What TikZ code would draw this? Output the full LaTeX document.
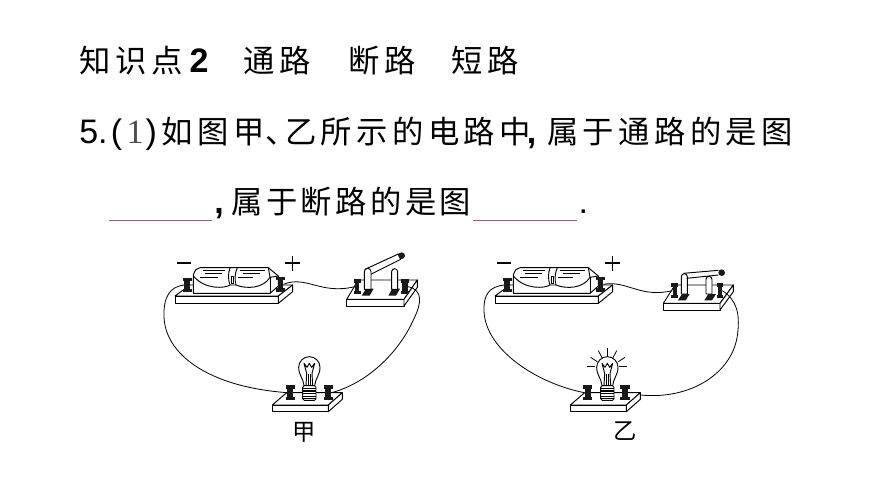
\documentclass[tikz,border=0pt]{standalone}
\usepackage{fontspec}
\setmainfont{Liberation Sans}
\newfontfamily\cjk[LetterSpace=14]{Noto Sans CJK SC}
\newfontfamily\cjknar[LetterSpace=11]{Noto Sans CJK SC}
\newfontfamily\cjkplain{Noto Sans CJK SC}
\newfontfamily\serifdigit{Liberation Serif}
\definecolor{blankpink}{HTML}{C2487A}
\tikzset{
  txt/.style={anchor=base west,inner sep=0pt,font=\fontsize{23.5}{26}\cjk},
  txtn/.style={anchor=base west,inner sep=0pt,font=\fontsize{23.5}{26}\cjknar},
  lat/.style={anchor=base west,inner sep=0pt,font=\fontsize{25.5}{28}\selectfont},
  latb/.style={anchor=base west,inner sep=0pt,font=\fontsize{25.5}{28}\selectfont\bfseries},
  figcap/.style={anchor=center,inner sep=0pt,font=\fontsize{17.5}{20}\cjkplain},
  ink/.style={draw=black,line width=.7pt,line join=round},
  wire/.style={draw=black,line width=.6pt},
  board/.style={ink,fill=white},
  blankline/.style={draw=blankpink,line width=.7pt},
  termstem/.style={draw=none,fill=black!90,inner sep=0pt,minimum width=3pt,minimum height=9pt},
  signline/.style={draw=black,line width=1pt},
  rayline/.style={draw=black,line width=.6pt}
}
\newcommand{\termI}[4]{%
  \begin{scope}[shift={(#2,#3)}]
    \node[termstem,minimum width=#4*0.32pt] (#1) at (0,0) {};
    \fill[black!90] (-#4,-22) rectangle (#4,-12);
    \fill[black!90] (-#4,12) rectangle (#4,22);
  \end{scope}}
\newcommand{\batteryunit}[1]{%
  \draw[board] (75,168) -- (120,135) -- (428,135) -- (385,168) -- cycle;
  \draw[board] (75,168) rectangle (385,190);
  \draw[board] (385,168) -- (428,135) -- (428,155) -- (385,190) -- cycle;
  \draw[ink,fill=white] (130,160) -- (130,105) .. controls (135,90) and (140,84) .. (150,83)
     -- (355,83) -- (385,108) -- (385,138) -- (360,160) -- cycle;
  \draw[ink] (130,108) .. controls (165,150) and (225,145) .. (240,135);
  \draw[ink] (258,135) .. controls (290,148) and (340,145) .. (360,112) -- (385,108);
  \draw[ink] (360,112) -- (360,160);
  \draw[ink] (355,83) -- (360,112);
  \draw[ink] (240,83) .. controls (234,100) and (234,120) .. (240,135) -- (258,135)
     .. controls (254,120) and (254,100) .. (262,83);
  \draw[ink] (245,108) rectangle (251,130);
  \foreach \xa/\xb/\yy in {160/225/92,165/215/100,150/205/112,270/345/90,280/330/100,265/310/112}
    \draw[ink] (\xa,\yy) -- (\xb,\yy);
  \termI{#1neg}{112}{135}{14}
  \termI{#1pos}{391}{133}{13}
  \draw[signline,line width=1.5pt] (82,68) -- (122,68);
  \draw[signline] (406,69) -- (450,69) (428,48) -- (428,92);
}
\newcommand{\bulbunit}[4]{% prefix, dx, left term x, right term x
  \draw[board] (#2-111,495) -- (#2-68,458) -- (#2+99,458) -- (#2+57,495) -- cycle;
  \draw[board] (#2-111,495) rectangle (#2+57,515);
  \draw[board] (#2+57,495) -- (#2+99,458) -- (#2+99,478) -- (#2+57,515) -- cycle;
  \draw[ink] (#2-16,437) .. controls (#2-18,415) and (#2-32,405) .. (#2-32,382)
     arc[start angle=180,end angle=360,radius=32]
     .. controls (#2+32,405) and (#2+18,415) .. (#2+16,437);
  \draw[ink] (#2-10,437) -- (#2-8,400) -- (#2-16,370) -- (#2-7,382) -- (#2,370) -- (#2+7,382) -- (#2+16,370) -- (#2+8,400) -- (#2+10,437);
  \draw[ink] (#2-3,437) -- (#2-3,402) (#2+3,437) -- (#2+3,402);
  \draw[ink,fill=white,rounded corners=1.2pt] (#2-20,437) rectangle (#2+20,481);
  \foreach \yy in {445,453,461,469,476}
    \draw[ink,line width=.9pt] (#2-20,\yy) -- (#2+20,\yy);
  \draw[ink] (#3,458) -- (#2-20,458) (#2+20,458) -- (#4,458);
  \termI{#1bl}{#3}{458}{14}
  \termI{#1br}{#4}{458}{14}
}
\begin{document}
\begin{tikzpicture}[x=.25pt,y=-.25pt]
\useasboundingbox (0,0) rectangle (2610,1467);
\fill[white] (0,0) rectangle (2610,1467);

% heading
\node[txt] (h1) at (238,216) {知识点};
\node[latb] (h2) at (568,216) {2};
\node[txt] (h3) at (731,216) {通路};
\node[txt] (h4) at (1046,216) {断路};
\node[txt] (h5) at (1355,216) {短路};

% line 2
\node[lat] (l1) at (237,429) {5.};
\node[lat] (l1a) at (332,429) {(};
\node[lat,text=black!70,font=\fontsize{25.5}{28}\serifdigit] (l1b) at (379,429) {1};
\node[lat] (l1c) at (436,429) {)};
\node[txt] (l2) at (484,429) {如图甲};
\node[txt] (l3) at (795,429) {\makebox[.6em][l]{、}};
\node[txt] (l4) at (855,429) {乙所示的电路中};
\node[latb] (l5) at (1580,429) {,};
\node[txt] (l6) at (1641,429) {属于通路的是图};

% line 3
\node[latb] (m1) at (642,639) {,};
\node[txtn] (m2) at (693,639) {属于断路的是图};
\node[lat] (m3) at (1735,639) {.};
\coordinate (b1a) at (327,660); \coordinate (b1b) at (636,660);
\coordinate (b2a) at (1419,660); \coordinate (b2b) at (1731,660);
\draw[blankline] (b1a) -- (b1b);
\draw[blankline] (b2a) -- (b2b);

% figure jia
\begin{scope}[shift={(450,720)}]
  \batteryunit{j}
  % switch, open
  \draw[board] (590,178) -- (625,120) -- (802,120) -- (762,178) -- cycle;
  \draw[board] (590,178) rectangle (762,198);
  \draw[board] (762,178) -- (802,120) -- (802,142) -- (762,198) -- cycle;
  \fill[black!90] (635,167) -- (659,167) -- (671,146) -- (648,146) -- cycle;
  \fill[black!90] (715,167) -- (738,167) -- (750,146) -- (727,146) -- cycle;
  \draw[ink,fill=white] (645,88) -- (745,42) -- (752,58) -- (668,100) -- (660,104) -- cycle;
  \draw[ink,fill=white] (643,148) -- (643,95) arc[start angle=180,end angle=360,radius=10] -- (663,148) -- cycle;
  \draw[ink,fill=white] (725,148) -- (725,95) arc[start angle=180,end angle=360,radius=9] -- (743,148) -- cycle;
  \fill[black!90] (755,47) circle[radius=10];
  \termI{jsl}{622}{140}{10}
  \termI{jsr}{765}{140}{13}
  \bulbunit{j}{478}{421}{535}
  \node[figcap] (jcap) at (462,578) {甲};
  \draw[wire] (jneg.west) .. controls (60,140) and (40,170) .. (42,230)
     .. controls (45,340) and (170,440) .. (jbl.west);
  \draw[wire] (jpos.east) .. controls (470,105) and (510,165) .. (jsl.west);
  \draw[wire] (jsr.east) .. controls (820,150) and (815,190) .. (790,240)
     .. controls (745,340) and (650,430) .. (jbr.east);
\end{scope}

% figure yi
\begin{scope}[shift={(1410,720)}]
  \batteryunit{y}
  % switch, closed
  \draw[board] (580,190) -- (615,135) -- (790,135) -- (750,190) -- cycle;
  \draw[board] (580,190) rectangle (750,210);
  \draw[board] (750,190) -- (790,135) -- (790,155) -- (750,210) -- cycle;
  \fill[black!90] (624,181) -- (647,181) -- (659,162) -- (636,162) -- cycle;
  \fill[black!90] (703,181) -- (726,181) -- (738,162) -- (715,162) -- cycle;
  \draw[ink,fill=white] (634,162) -- (634,110) arc[start angle=180,end angle=360,radius=9] -- (652,162) -- cycle;
  \draw[ink,fill=white] (708,162) -- (708,118) arc[start angle=180,end angle=360,radius=9] -- (726,162) -- cycle;
  \draw[ink] (640,100) -- (745,91) (650,115) -- (745,105);
  \fill[black!90] (755,98) circle[radius=10];
  \termI{ysl}{614}{152}{10}
  \termI{ysr}{750}{152}{10}
  \bulbunit{y}{412}{353}{465}
  \foreach \xa/\ya/\xb/\yb in {352/380/375/380,447/380/472/380,362/352/382/365,385/332/397/355,413/325/413/350,440/332/428/355,465/352/445/365}
    \draw[rayline] (\xa,\ya) -- (\xb,\yb);
  \node[figcap] (ycap) at (465,573) {乙};
  \draw[wire] (yneg.west) .. controls (60,140) and (40,160) .. (42,215)
     .. controls (48,330) and (200,430) .. (ybl.west);
  \draw[wire] (ypos.east) .. controls (470,120) and (510,175) .. (ysl.west);
  \coordinate (yend) at (512,465);
  \draw[wire] (ysr.east) .. controls (800,180) and (810,220) .. (803,280)
     .. controls (790,400) and (660,480) .. (yend);
\end{scope}
\end{tikzpicture}
\end{document}
